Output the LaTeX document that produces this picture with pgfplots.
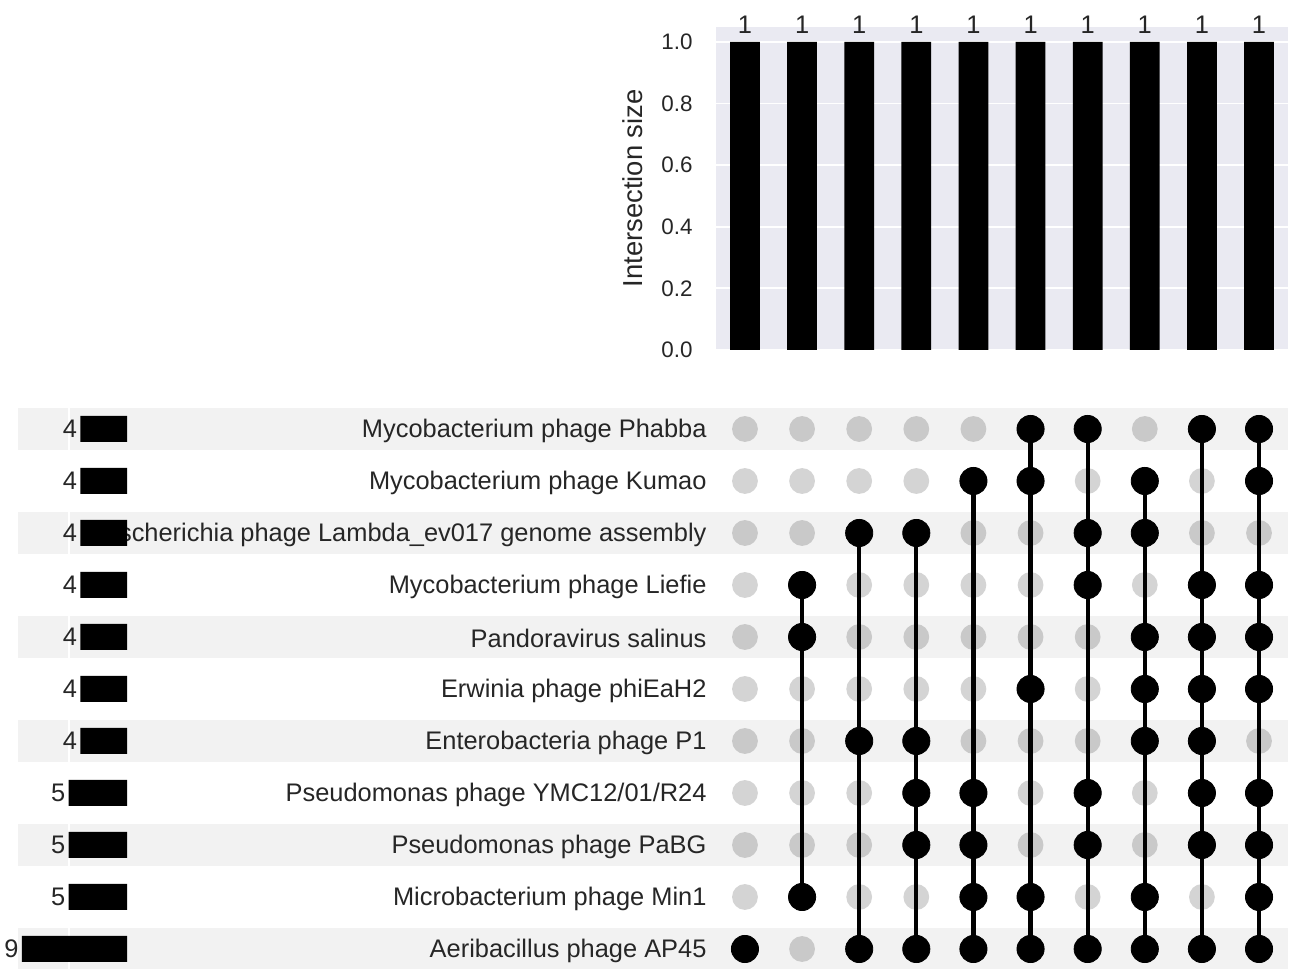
\documentclass[border=0pt]{standalone}
\usepackage{fontspec}
\setmainfont{Liberation Sans}
\usepackage{pgfplots}
\pgfplotsset{compat=1.18}
\usepackage{pgfplotstable}
\pgfkeys{/pgf/number format/assume math mode=true}

\definecolor{txt}{HTML}{262626}
\definecolor{panel}{HTML}{EAEAF2}
\definecolor{band}{HTML}{F2F2F2}

\newcommand{\lblfont}{\fontsize{12.7pt}{15pt}\selectfont}
\newcommand{\tickfont}{\fontsize{11.2pt}{13pt}\selectfont}
\newcommand{\axlabfont}{\fontsize{13.7pt}{16pt}\selectfont}

% Set sizes (row 0 is the bottom row of the matrix)
\pgfplotstableread{
size row
9 0
5 1
5 2
5 3
4 4
4 5
4 6
4 7
4 8
4 9
4 10
}\setsizes

% Intersection sizes, one per column
\pgfplotstableread{
col size
0 1
1 1
2 1
3 1
4 1
5 1
6 1
7 1
8 1
9 1
}\intersections

% Sets taking part in each intersection
\pgfplotstableread{
col row
0 0
1 1
1 6
1 7
2 0
2 4
2 8
3 0
3 2
3 3
3 4
3 8
4 0
4 1
4 2
4 3
4 9
5 0
5 1
5 5
5 9
5 10
6 0
6 2
6 3
6 7
6 8
6 10
7 0
7 1
7 4
7 5
7 6
7 8
7 9
8 0
8 2
8 3
8 4
8 5
8 6
8 7
8 10
9 0
9 1
9 2
9 3
9 5
9 6
9 7
9 9
9 10
}\members

% Sets not taking part in each intersection
\pgfplotstableread{
col row
0 1
0 2
0 3
0 4
0 5
0 6
0 7
0 8
0 9
0 10
1 0
1 2
1 3
1 4
1 5
1 8
1 9
1 10
2 1
2 2
2 3
2 5
2 6
2 7
2 9
2 10
3 1
3 5
3 6
3 7
3 9
3 10
4 4
4 5
4 6
4 7
4 8
4 10
5 2
5 3
5 4
5 6
5 7
5 8
6 1
6 4
6 5
6 6
6 9
7 2
7 3
7 7
7 10
8 1
8 8
8 9
9 4
9 8
}\nonmembers

% Connector from lowest to highest member in each column
\pgfplotstableread{
col row
1 1
1 7
nan nan
2 0
2 8
nan nan
3 0
3 8
nan nan
4 0
4 9
nan nan
5 0
5 10
nan nan
6 0
6 10
nan nan
7 0
7 9
nan nan
8 0
8 10
nan nan
9 0
9 10
}\connectors

\begin{document}
\begin{tikzpicture}

% alternating row shading behind the matrix, labels and totals
\begin{axis}[
  at={(358.2pt,-3pt)}, anchor=south west,
  scale only axis, width=285.6pt, height=286pt,
  xmin=-0.5, xmax=9.5, ymin=-0.5, ymax=10.5,
  hide axis, clip=false,
]
\fill[band] (axis cs:-12.72,-0.4) rectangle (axis cs:9.5,0.4);
\fill[band] (axis cs:-12.72,1.6) rectangle (axis cs:9.5,2.4);
\fill[band] (axis cs:-12.72,3.6) rectangle (axis cs:9.5,4.4);
\fill[band] (axis cs:-12.72,5.6) rectangle (axis cs:9.5,6.4);
\fill[band] (axis cs:-12.72,7.6) rectangle (axis cs:9.5,8.4);
\fill[band] (axis cs:-12.72,9.6) rectangle (axis cs:9.5,10.4);
\end{axis}

% intersection size bars
\begin{axis}[
  at={(358.2pt,309.5pt)}, anchor=south west,
  scale only axis, width=285.6pt, height=161.7pt,
  xmin=-0.5, xmax=9.5, ymin=0, ymax=1.05,
  axis background/.style={fill=panel},
  axis line style={draw=none},
  xtick=\empty,
  ytick={0,0.2,0.4,0.6,0.8,1.0},
  ymajorgrids, grid style={white, line width=0.9pt},
  major tick length=0pt,
  yticklabel={\pgfmathprintnumber[fixed,fixed zerofill,precision=1]{\tick}},
  yticklabel style={font=\tickfont, text=txt, anchor=east, inner sep=0pt, xshift=-11.7pt},
  ylabel={Intersection size},
  every axis y label/.style={at={(axis description cs:-0.146,0.5)}, rotate=90, anchor=center, font=\axlabfont, text=txt},
  clip=false,
]
\addplot[ybar, bar width=0.52, fill=black, draw=none,
  nodes near coords,
  nodes near coords style={font=\lblfont, text=txt, anchor=south, inner sep=0pt, yshift=4pt}]
  table[x=col, y=size]{\intersections};
\end{axis}

% membership matrix
\begin{axis}[
  at={(358.2pt,-3pt)}, anchor=south west,
  scale only axis, width=285.6pt, height=286pt,
  xmin=-0.5, xmax=9.5, ymin=-0.5, ymax=10.5,
  clip=false,
  axis line style={draw=none}, major tick length=0pt,
  xtick=\empty,
  ytick={0,1,2,3,4,5,6,7,8,9,10},
  yticklabels={Aeribacillus phage AP45, Microbacterium phage Min1, Pseudomonas phage PaBG, Pseudomonas phage YMC12/01/R24, Enterobacteria phage P1, Erwinia phage phiEaH2, Pandoravirus salinus, Mycobacterium phage Liefie, Escherichia phage Lambda\_ev017 genome assembly, Mycobacterium phage Kumao, Mycobacterium phage Phabba},
  yticklabel style={font=\lblfont, text=txt, anchor=east, inner sep=0pt, xshift=-4.75pt, yshift=-0.8pt},
]
\addplot[only marks, mark=*, mark size=6.45pt,
  mark options={fill=black, draw=black, fill opacity=0.17, draw opacity=0}]
  table[x=col, y=row]{\nonmembers};
\addplot[black, line width=2.1pt, unbounded coords=jump, mark=none]
  table[x=col, y=row]{\connectors};
\addplot[only marks, mark=*, mark size=6.8pt,
  mark options={fill=black, draw=black, line width=0.4pt}]
  table[x=col, y=row]{\members};
\end{axis}

% set size bars, growing to the left
\begin{axis}[
  at={(9.25pt,-3pt)}, anchor=south west,
  scale only axis, width=54.25pt, height=286pt,
  x dir=reverse, xmin=0, xmax=9.3, ymin=-0.5, ymax=10.5,
  clip=false,
  axis line style={draw=none}, major tick length=0pt,
  xtick={5}, xticklabels={}, ytick=\empty,
  xmajorgrids, grid style={white, line width=1pt},
]
\addplot[xbar, bar width=0.5, fill=black, draw=none,
  point meta=x, nodes near coords,
  nodes near coords style={font=\lblfont, text=txt, anchor=east, inner sep=0pt, xshift=-1.5pt}]
  table[x=size, y=row]{\setsizes};
\end{axis}

\pgfresetboundingbox
\path[use as bounding box] (0,0) rectangle (645.5pt,484.5pt);
\end{tikzpicture}
\end{document}
